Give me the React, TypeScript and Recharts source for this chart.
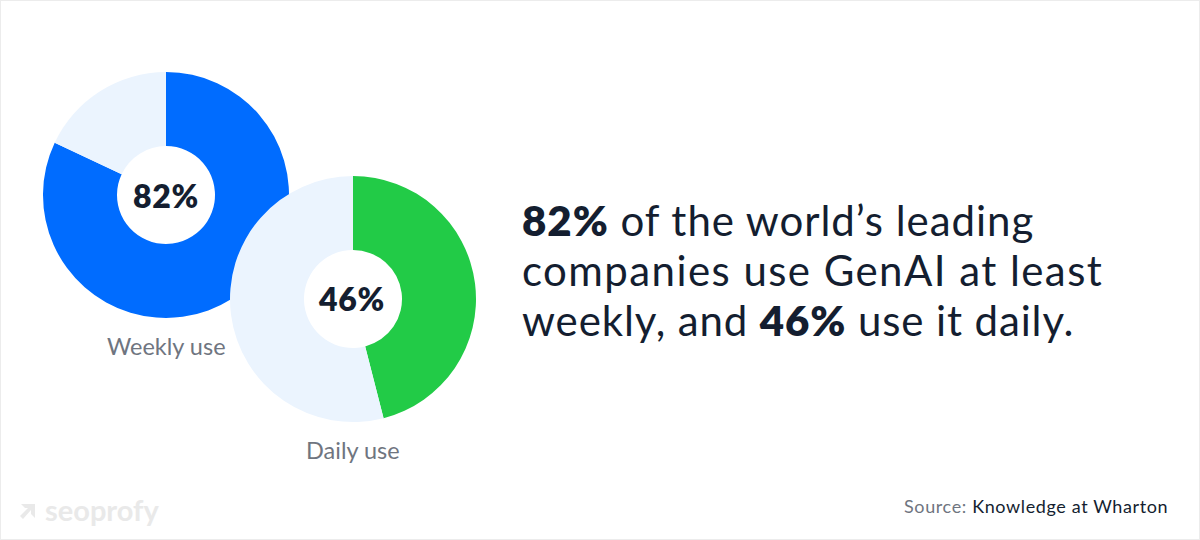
import React from 'react';
import { PieChart, Pie, Cell } from 'recharts';

const weeklyNames = ['Weekly', 'Other'];
const weeklyValues = [82, 18];
const dailyNames = ['Daily', 'Other'];
const dailyValues = [46, 54];

const weeklyColors = ['#006cff', '#ebf4fe'];
const dailyColors = ['#22cb47', '#ebf4fe'];

const weeklyData = weeklyNames.map((name, i) => ({ name, value: weeklyValues[i] }));
const dailyData = dailyNames.map((name, i) => ({ name, value: dailyValues[i] }));

const FONT = 'Lato, "Open Sans", sans-serif';
const DARK = '#141e30';
const GREY = '#6f7580';

const Txt: React.FC<{ left: number; top: number; size: number; color?: string; weight?: number; spacing?: number; children: React.ReactNode }> = ({
  left, top, size, color = DARK, weight = 400, spacing = 0, children
}) => (
  <div style={{ position: 'absolute', left, top, fontSize: size, color, fontWeight: weight, letterSpacing: spacing, lineHeight: 1, whiteSpace: 'pre', fontFamily: FONT }}>
    {children}
  </div>
);

export default function App() {
  return (
    <div style={{ position: 'absolute', left: 0, top: 0, width: 1200, height: 540, background: '#fff', overflow: 'hidden' }}>
      <div style={{ position: 'absolute', inset: 0, border: '1px solid #ececec', boxSizing: 'border-box' }} />
      <PieChart width={1200} height={540} margin={{ top: 0, right: 0, bottom: 0, left: 0 }} style={{ position: 'absolute', left: 0, top: 0 }}>
        <Pie data={weeklyData} dataKey="value" cx={166} cy={195} innerRadius={49} outerRadius={123} startAngle={90} endAngle={-270} stroke="none" isAnimationActive={false}>
          {weeklyData.map((d, i) => <Cell key={d.name} fill={weeklyColors[i]} />)}
        </Pie>
        <Pie data={dailyData} dataKey="value" cx={353} cy={299} innerRadius={49} outerRadius={123} startAngle={90} endAngle={-270} stroke="none" isAnimationActive={false}>
          {dailyData.map((d, i) => <Cell key={d.name} fill={dailyColors[i]} />)}
        </Pie>
      </PieChart>

      <Txt left={133} top={180} size={32} weight={800} spacing={0.7}>82%</Txt>
      <Txt left={319} top={283} size={32} weight={800} spacing={0.7}>46%</Txt>
      <Txt left={107} top={335} size={23.5} color={GREY}>Weekly use</Txt>
      <Txt left={306} top={439} size={23.5} color={GREY}>Daily use</Txt>

      <Txt left={522} top={199} size={42} spacing={0.96}><b style={{ fontWeight: 800 }}>82%</b> of the world’s leading</Txt>
      <Txt left={522} top={249} size={42} spacing={1.43}>companies use GenAI at least</Txt>
      <Txt left={522} top={299} size={42} spacing={0.88}>weekly, and <b style={{ fontWeight: 800 }}>46%</b> use it daily.</Txt>

      <Txt left={904} top={497} size={18} color={GREY} spacing={0.62}>Source: <span style={{ color: DARK }}>Knowledge at Wharton</span></Txt>

      <svg style={{ position: 'absolute', left: 18, top: 502 }} width={20} height={20}>
        <path d="M3 2 H17 V16 L13 12 V8 L5 17 L2 14 L10 6 H7 Z" fill="#e9e9e9" />
      </svg>
      <Txt left={45} top={495} size={29} color="#e9e9e9" weight={700}>seoprofy</Txt>
    </div>
  );
}
